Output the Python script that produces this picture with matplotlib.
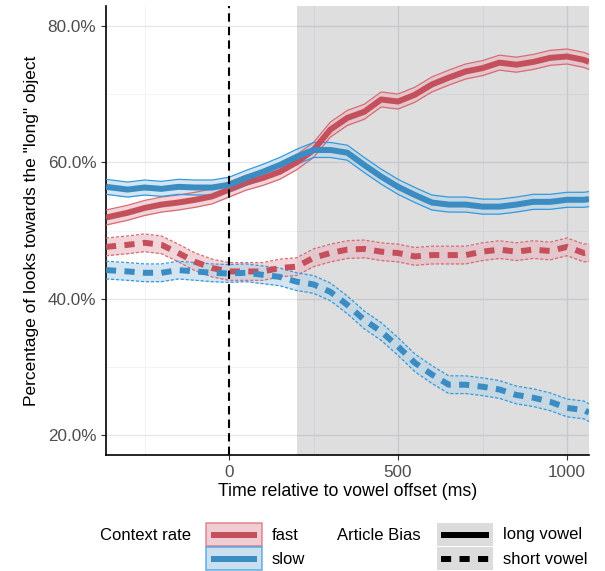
import numpy as np
import matplotlib
matplotlib.use("Agg")
import matplotlib.pyplot as plt
from matplotlib.patches import Rectangle

plt.rcParams['font.family'] = ['Liberation Sans', 'DejaVu Sans']

# time (ms relative to vowel offset)
time_ms = [-364, -300, -250, -200, -150, -100, -50, 0, 50, 100, 150, 200, 250, 300,
           350, 400, 450, 500, 550, 600, 650, 700, 750, 800, 850, 900, 950, 1000, 1050, 1065]

# percentage of looks towards the "long" object
fast_long = [51.9, 52.6, 53.3, 53.8, 54.1, 54.5, 55.0, 56.0, 57.0, 57.7, 58.6, 60.0, 61.8, 64.8,
             66.5, 67.4, 69.2, 68.9, 69.9, 71.4, 72.4, 73.3, 73.8, 74.6, 74.3, 74.7, 75.3, 75.5, 75.0, 74.7]
slow_long = [56.4, 56.0, 56.3, 56.1, 56.4, 56.3, 56.3, 56.7, 57.7, 58.6, 59.6, 60.8, 61.8, 61.8,
             61.4, 59.6, 57.9, 56.4, 55.2, 54.1, 53.8, 53.8, 53.5, 53.5, 53.8, 54.2, 54.2, 54.5, 54.5, 54.6]
fast_short = [47.6, 47.9, 48.2, 47.9, 46.7, 45.4, 44.5, 44.0, 44.0, 44.0, 44.5, 44.7, 46.0, 46.7,
              47.2, 47.3, 46.9, 46.7, 46.2, 46.4, 46.4, 46.4, 46.9, 47.2, 46.9, 47.2, 47.0, 47.6, 46.7, 46.8]
slow_short = [44.2, 44.0, 43.8, 43.8, 44.2, 44.0, 43.8, 43.7, 43.8, 43.5, 43.2, 42.5, 42.1, 41.0,
              39.1, 36.9, 35.2, 33.0, 30.6, 28.9, 27.4, 27.4, 27.1, 26.7, 25.9, 25.5, 24.9, 24.0, 23.7, 23.3]

# half width of confidence ribbon (percentage points)
ci_long = 1.1
ci_short = 1.3

shade_start = 200

red = '#C4505C'
red_edge = '#D86A74'
red_fill = '#E9B9C0'
blue = '#3A8CC2'
blue_edge = '#3399DD'
blue_fill = '#B6D4E8'

fig = plt.figure(figsize=(6.05, 5.71), dpi=100)
ax = fig.add_axes([106 / 605, 1 - 455 / 571, (589 - 106) / 605, (455 - 6) / 571])

t = np.array(time_ms)
series = [
    (fast_long, ci_long, red, red_edge, red_fill, '-'),
    (slow_long, ci_long, blue, blue_edge, blue_fill, '-'),
    (fast_short, ci_short, red, red_edge, red_fill, 'dash'),
    (slow_short, ci_short, blue, blue_edge, blue_fill, 'dash'),
]

ax.axvspan(shade_start, 1100, color='black', alpha=0.13, zorder=1, lw=0)

for vals, ci, col, ecol, fcol, ls in series:
    v = np.array(vals)
    ax.fill_between(t, v - ci, v + ci, color=fcol, alpha=0.6, lw=0, zorder=2)
    if ls == '-':
        ax.plot(t, v - ci, color=ecol, lw=0.9, zorder=3)
        ax.plot(t, v + ci, color=ecol, lw=0.9, zorder=3)
        ax.plot(t, v, color=col, lw=4.3, zorder=4, solid_capstyle='butt')
    else:
        ax.plot(t, v - ci, color=ecol, lw=0.9, ls=(0, (2.5, 1.5)), zorder=3)
        ax.plot(t, v + ci, color=ecol, lw=0.9, ls=(0, (2.5, 1.5)), zorder=3)
        ax.plot(t, v, color=col, lw=4.3, ls=(0, (1.7, 1.4)), zorder=4)

ax.axvline(0, color='black', lw=1.5, ls=(0, (4, 2.5)), zorder=5)

ax.set_xlim(-364, 1065)
ax.set_ylim(17.1, 82.9)
ax.set_xticks([0, 500, 1000])
ax.set_xticks([-250, 250, 750], minor=True)
ax.set_yticks([20, 40, 60, 80])
ax.set_yticks([30, 50, 70], minor=True)
ax.set_yticklabels(['20.0%', '40.0%', '60.0%', '80.0%'])
ax.grid(True, which='major', color='#E3E6EE', lw=0.9)
ax.grid(True, which='minor', color='#EFF1F6', lw=0.6)
ax.set_axisbelow(True)
ax.tick_params(which='minor', length=0)
ax.tick_params(which='major', length=3.5, width=0.8, color='#333333',
               labelsize=12.3, labelcolor='#4D4D4D')
for s in ['top', 'right']:
    ax.spines[s].set_visible(False)
for s in ['left', 'bottom']:
    ax.spines[s].set_linewidth(1.2)
ax.set_xlabel('Time relative to vowel offset (ms)', fontsize=12.8, labelpad=2)
ax.set_ylabel('Percentage of looks towards the "long" object', fontsize=12.5, labelpad=6)

# legend drawn in pixel coordinates
lg = fig.add_axes([0, 0, 1, 1])
lg.set_xlim(0, 605)
lg.set_ylim(571, 0)
lg.axis('off')
lg.patch.set_alpha(0)

fs = 12
lg.text(100, 535, 'Context rate', fontsize=fs, va='center')
keys = [(523, red, red_edge, red_fill, 'fast'), (547, blue, blue_edge, blue_fill, 'slow')]
for y0, col, ecol, fcol, lab in keys:
    lg.add_patch(Rectangle((206, y0), 56, 23, facecolor=fcol, edgecolor=ecol, lw=1.2, alpha=0.7))
    lg.plot([211, 257], [y0 + 11.5, y0 + 11.5], color=col, lw=4.3, solid_capstyle='butt')
    lg.text(272, y0 + 12, lab, fontsize=fs, va='center')

lg.text(337, 535, 'Article Bias', fontsize=fs, va='center')
bias = [(523, '-', 'long vowel'), (547, (0, (1.7, 1.4)), 'short vowel')]
for y0, ls, lab in bias:
    lg.add_patch(Rectangle((437, y0), 56, 23, facecolor='#DCDCDC', edgecolor='none'))
    lg.plot([441, 489], [y0 + 11.5, y0 + 11.5], color='black', lw=4.3, ls=ls, solid_capstyle='butt')
    lg.text(503, y0 + 12, lab, fontsize=fs, va='center')

fig.savefig('out.png', dpi=100)
